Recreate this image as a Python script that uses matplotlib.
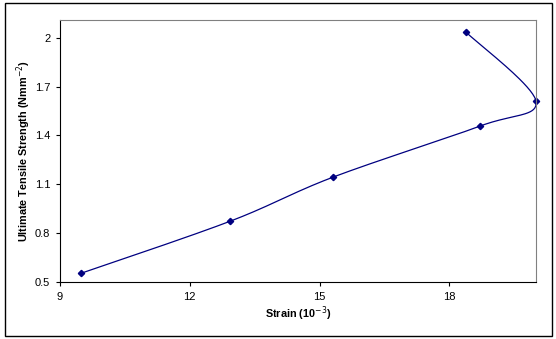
import numpy as np
import matplotlib.pyplot as plt
from matplotlib.patches import Rectangle

plt.rcParams['font.family'] = ['Liberation Sans', 'DejaVu Sans']

# Data
strain = [9.48, 12.93, 15.30, 18.70, 20.0, 18.38]
uts = [0.553, 0.873, 1.143, 1.457, 1.61, 2.035]
x_ticks = [9, 12, 15, 18]
y_ticks = [0.5, 0.8, 1.1, 1.4, 1.7, 2.0]
y_tick_labels = ['0.5', '0.8', '1.1', '1.4', '1.7', '2']


def smooth(xs, ys, n=40):
    # Catmull-Rom style smoothing like Excel's smoothed line
    p = np.column_stack([xs, ys])
    p = np.vstack([p[0], p, p[-1]])
    out = []
    for i in range(1, len(p) - 2):
        p0, p1, p2, p3 = p[i - 1], p[i], p[i + 1], p[i + 2]
        c1 = p1 + (p2 - p0) / 6
        c2 = p2 - (p3 - p1) / 6
        t = np.linspace(0, 1, n)[:, None]
        seg = ((1 - t) ** 3) * p1 + 3 * ((1 - t) ** 2) * t * c1 + 3 * (1 - t) * t ** 2 * c2 + t ** 3 * p2
        out.append(seg)
    out = np.vstack(out)
    return out[:, 0], out[:, 1]


fig = plt.figure(figsize=(5.56, 3.39), dpi=100)
fig.patches.append(Rectangle((5 / 556, 3 / 339), 547 / 556, 333 / 339, transform=fig.transFigure,
                             fill=False, edgecolor='black', linewidth=1.0))

ax = fig.add_axes([60 / 556, 57 / 339, 476 / 556, 262 / 339])
sx, sy = smooth(strain, uts)
ax.plot(sx, sy, color='#000080', linewidth=0.9, clip_on=False)
ax.plot(strain, uts, linestyle='none', marker='D', markersize=3.2, color='#000080', clip_on=False)

ax.set_xlim(9, 20)
ax.set_ylim(0.5, 2.109)
ax.set_xticks(x_ticks)
ax.set_yticks(y_ticks)
ax.set_yticklabels(y_tick_labels)
ax.tick_params(direction='out', length=3, width=0.8, labelsize=8, pad=4)

for side in ['top', 'right']:
    ax.spines[side].set_color('#808080')
for side in ['left', 'bottom']:
    ax.spines[side].set_color('black')

ax.set_xlabel('Strain (10$^{-3}$)', fontsize=7.8, fontweight='bold', labelpad=2)
ax.set_ylabel('Ultimate Tensile Strength (Nmm$^{-2}$)', fontsize=7.8, fontweight='bold', labelpad=1)

fig.savefig('out.png', dpi=100)
